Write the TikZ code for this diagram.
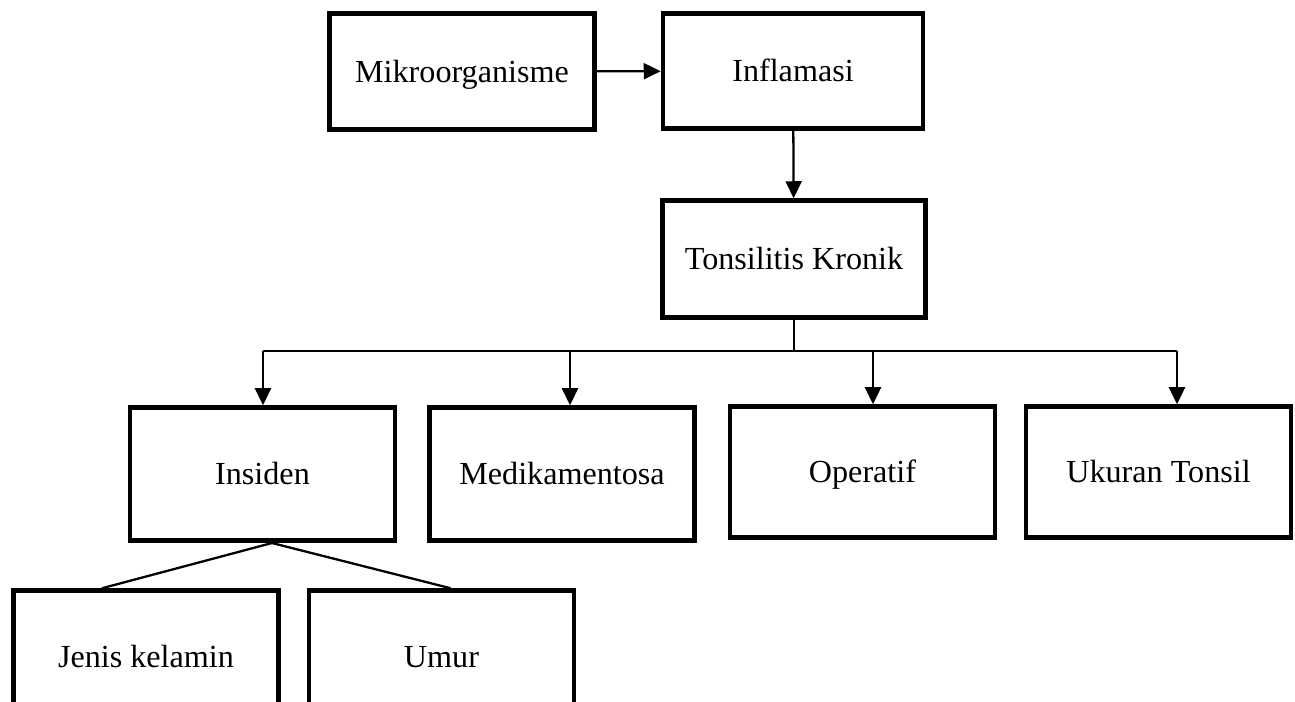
\documentclass[tikz,border=0pt]{standalone}
\usepackage{fontspec}
\setmainfont{Liberation Serif}
\usetikzlibrary{positioning, arrows.meta}

\begin{document}
\begin{tikzpicture}[x=0.02cm, y=-0.02cm,
    box/.style={draw=black, line width=2.6pt, minimum width=5.3cm, minimum height=2.32cm, inner sep=0pt, text height=12pt, text depth=0pt, font=\fontsize{18.3}{22}\selectfont},
    tall/.style={minimum height=2.66cm},
    link/.style={line width=1.3pt},
    arr/.style={-{Triangle[length=0.34cm, width=0.32cm]}, line width=1.3pt}]
            \useasboundingbox (0,0) rectangle (1295,701);
            \clip (0,0) rectangle (1295,701);

            \node[box] (mikro) at (462, 71.5) {Mikroorganisme};
            \node[box, minimum width=5.2cm, minimum height=2.3cm] (inflamasi) at (793, 71) {Inflamasi};
            \node[box, minimum width=5.26cm, minimum height=2.34cm] (tonsil) at (794, 259) {Tonsilitis Kronik};
            \node[box, tall] (insiden) at (262.5, 474) {Insiden};
            \node[box, tall] (medika) at (562, 474) {Medikamentosa};
            \node[box, minimum height=2.62cm] (operatif) at (862.5, 472) {Operatif};
            \node[box, minimum height=2.62cm] (ukuran) at (1158.5, 472) {Ukuran Tonsil};
            \node[box, tall] (jenis) at (146, 657) {Jenis kelamin};
            \node[box, tall] (umur) at (441.5, 657) {Umur};

            \coordinate (d1) at (263, 351);
            \coordinate (d2) at (570, 351);
            \coordinate (d3) at (873, 351);
            \coordinate (d4) at (1177, 351);
            \coordinate (apex) at (272, 543);

            \draw[arr] (mikro) -- (inflamasi);
            \draw[arr] (inflamasi) -- (tonsil);
            \draw[link] (tonsil.south) -- (tonsil.south |- d1);
            \draw[link] (d1) -- (d4);
            \draw[arr] (d1) -- (d1 |- insiden.north);
            \draw[arr] (d2) -- (d2 |- medika.north);
            \draw[arr] (d3) -- (d3 |- operatif.north);
            \draw[arr] (d4) -- (d4 |- ukuran.north);
            \draw[link] (apex) -- ([xshift=-0.88cm]jenis.north);
            \draw[link] (apex) -- ([xshift=0.18cm]umur.north);
        \end{tikzpicture}
\end{document}
